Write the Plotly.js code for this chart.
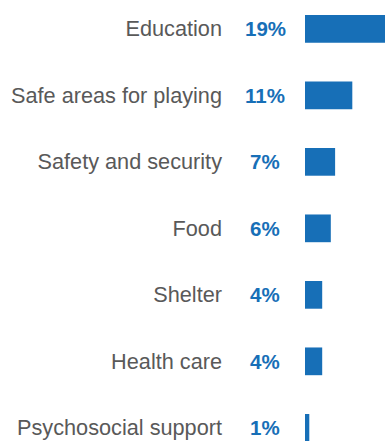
<!DOCTYPE html>
<html>
<head>
<meta charset="utf-8">
<script src="https://cdn.plot.ly/plotly-3.0.1.min.js"></script>
<style>
  html, body { margin: 0; padding: 0; background: #ffffff; }
  #chart { width: 385px; height: 441px; }
</style>
</head>
<body>
<div id="chart"></div>
<script>
// Share of respondents naming each need
const categories = [
  'Education',
  'Safe areas for playing',
  'Safety and security',
  'Food',
  'Shelter',
  'Health care',
  'Psychosocial support'
];
const shares = [19, 11, 7, 6, 4, 4, 1];
const shareLabels = ['19%', '11%', '7%', '6%', '4%', '4%', '1%'];

const BLUE = '#176fb7';
const LABEL_FONT = '"Liberation Sans", Arial, sans-serif';

const trace = {
  type: 'bar',
  orientation: 'h',
  y: categories,
  x: shares,
  width: 0.417,
  marker: { color: BLUE },
  hoverinfo: 'skip'
};

// Percentage labels sit in the gap between the category names and the bars
const valueNotes = categories.map((c, i) => ({
  xref: 'paper', yref: 'y',
  x: -0.5, y: c,
  xanchor: 'center', yanchor: 'middle',
  text: shareLabels[i],
  showarrow: false,
  font: { family: LABEL_FONT, size: 20.5, color: BLUE, weight: 'bold' }
}));

const layout = {
  width: 385,
  height: 441,
  margin: { l: 305, r: 0, t: 0, b: 0, pad: 0 },
  paper_bgcolor: '#ffffff',
  plot_bgcolor: '#ffffff',
  showlegend: false,
  xaxis: {
    range: [0, 18.6],
    visible: false,
    fixedrange: true
  },
  yaxis: {
    type: 'category',
    range: [6.198, -0.434],
    showgrid: false,
    zeroline: false,
    showline: false,
    ticks: '',
    ticklabelstandoff: 82,
    tickfont: { family: LABEL_FONT, size: 21.7, color: '#595959' },
    fixedrange: true
  },
  annotations: valueNotes
};

Plotly.newPlot('chart', [trace], layout, { displayModeBar: false, staticPlot: true });
</script>
</body>
</html>
